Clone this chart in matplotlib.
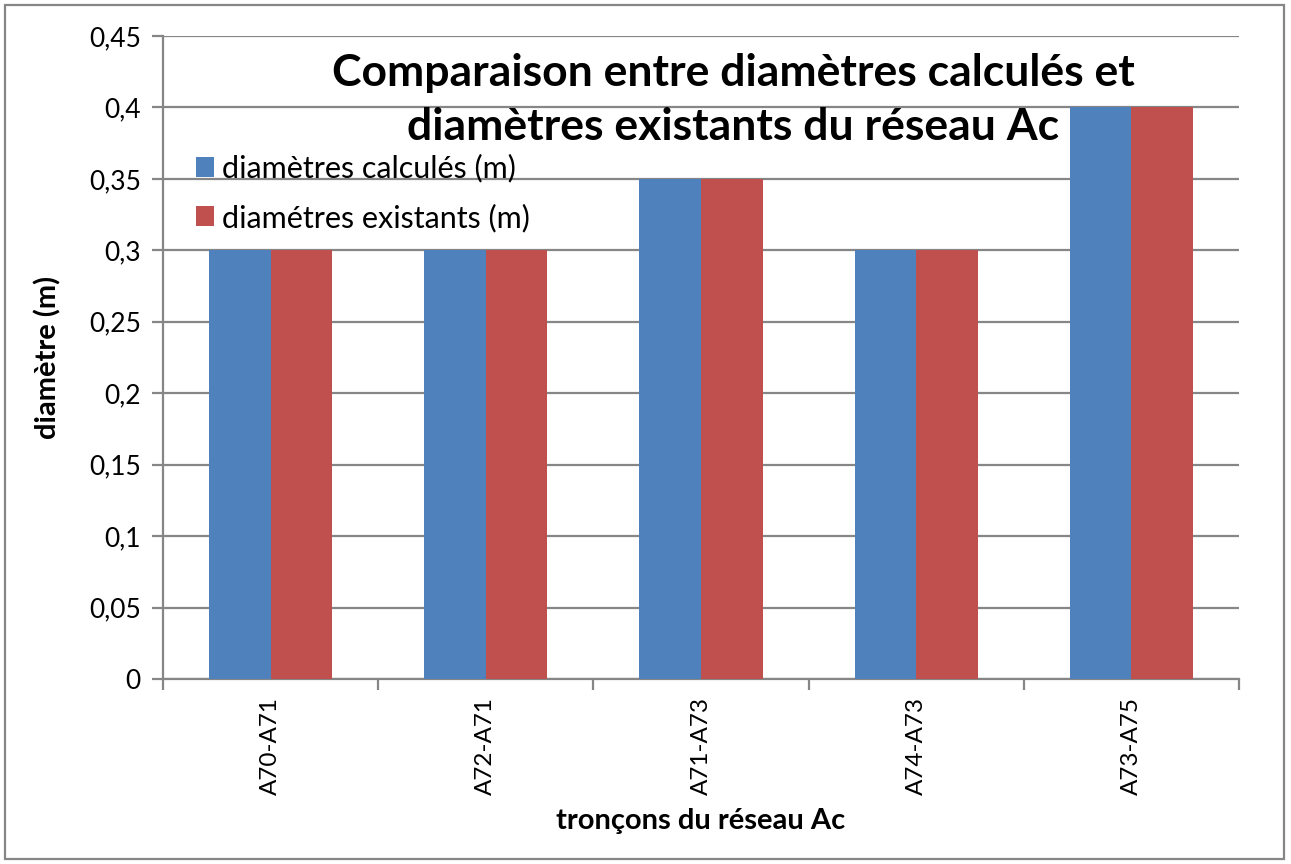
import numpy as np
import matplotlib
matplotlib.use("Agg")
from matplotlib import pyplot as plt
from matplotlib.patches import Rectangle
from matplotlib.ticker import FuncFormatter

# troncons du reseau Ac
troncons = ["A70-A71", "A72-A71", "A71-A73", "A74-A73", "A73-A75"]
diam_calcules = [0.3, 0.3, 0.35, 0.3, 0.4]
diam_existants = [0.3, 0.3, 0.35, 0.3, 0.4]
y_ticks = [0, 0.05, 0.1, 0.15, 0.2, 0.25, 0.3, 0.35, 0.4, 0.45]

BLUE = "#4F81BD"
RED = "#C0504D"
GRID = "#868686"

plt.rcParams['font.family'] = ['Lato', 'DejaVu Sans']

fig = plt.figure(figsize=(12.91, 8.64), dpi=100)
ax = fig.add_axes([0.1263, 0.2141, 0.8334, 0.7442])

x = np.arange(len(troncons))
w = 0.286
ax.bar(x - w / 2, diam_calcules, w, color=BLUE, label="diamètres calculés (m)", zorder=3)
ax.bar(x + w / 2, diam_existants, w, color=RED, label="diamétres existants (m)", zorder=3)

ax.set_xlim(-0.5, len(troncons) - 0.5)
ax.set_ylim(0, 0.45)
ax.set_yticks(y_ticks)
ax.yaxis.set_major_formatter(FuncFormatter(lambda v, p: "{:g}".format(round(v, 2)).replace(".", ",")))
ax.grid(axis="y", color=GRID, linewidth=1.6, zorder=0)

# ticks between categories, labels at the centres
ax.set_xticks(np.arange(-0.5, len(troncons), 1.0))
ax.set_xticklabels([])
ax.set_xticks(x, minor=True)
ax.set_xticklabels(troncons, minor=True, rotation=90, fontsize=17.5)
ax.tick_params(axis="x", which="minor", length=0, pad=13)
ax.tick_params(axis="x", which="major", length=8, width=1.6, color=GRID)
ax.tick_params(axis="y", length=8, width=1.6, color=GRID, labelsize=19, pad=8)

for side in ["top", "right"]:
    ax.spines[side].set_visible(False)
for side in ["left", "bottom"]:
    ax.spines[side].set_color(GRID)
    ax.spines[side].set_linewidth(1.6)

ax.set_ylabel("diamètre (m)", fontsize=21, fontweight="bold", labelpad=20)
ax.set_xlabel("tronçons du réseau Ac", fontsize=21, fontweight="bold", labelpad=9)

fig.text(0.568, 0.884, "Comparaison entre diamètres calculés et\ndiamètres existants du réseau Ac",
         ha="center", va="center", fontsize=32, fontweight="bold", linespacing=1.42)

ax.legend(loc="upper left", bbox_to_anchor=(0.142, 0.836), bbox_transform=fig.transFigure,
          frameon=False, fontsize=22, handlelength=0.62, handleheight=0.62,
          handletextpad=0.25, labelspacing=0.68, borderaxespad=0)

# chart border
fig.patches.append(Rectangle((5 / 1291, 5 / 864), 1279 / 1291, 854 / 864, transform=fig.transFigure,
                             fill=False, edgecolor=GRID, linewidth=1.6))

fig.savefig("out.png", dpi=100)
